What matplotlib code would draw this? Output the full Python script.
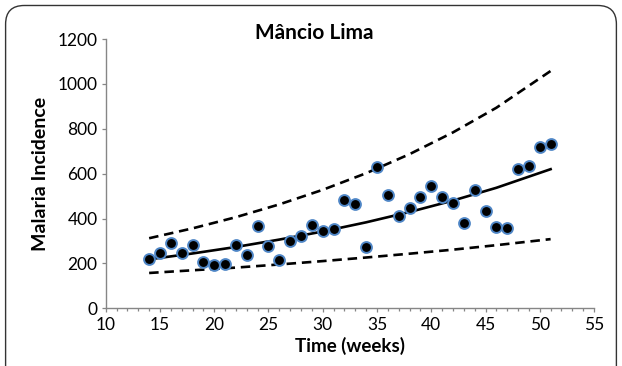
import numpy as np
import matplotlib
matplotlib.use('Agg')
import matplotlib.pyplot as plt
from matplotlib.patches import FancyBboxPatch

plt.rcParams['font.family'] = ['Lato', 'DejaVu Sans']

# observed weekly incidence
weeks = [14, 15, 16, 17, 18, 19, 20, 21, 22, 23, 24, 25, 26, 27, 28, 29, 30, 31, 32,
         33, 34, 35, 36, 37, 38, 39, 40, 41, 42, 43, 44, 45, 46, 47, 48, 49, 50, 51]
incidence = [218, 247, 291, 247, 282, 207, 193, 196, 281, 236, 367, 278, 215, 299, 323,
             373, 343, 355, 483, 464, 275, 630, 505, 412, 445, 494, 546, 498, 468, 380,
             525, 433, 364, 357, 619, 633, 717, 731]

# fitted curve and bounds
curve_weeks = [14, 18, 22, 26, 30, 34, 38, 42, 46, 51]
fit = [218, 244, 273, 306, 342, 383, 429, 480, 537, 620]
upper = [312, 356, 406, 463, 528, 602, 687, 784, 894, 1058]
lower = [157, 169, 181, 195, 210, 226, 243, 261, 281, 308]

fig = plt.figure(figsize=(6.22, 3.66), dpi=100)
ax = fig.add_axes([0.170, 0.158, 0.785, 0.735])

ax.plot(curve_weeks, upper, color='black', lw=1.9, ls=(0, (3.6, 2.2)))
ax.plot(curve_weeks, lower, color='black', lw=1.9, ls=(0, (3.6, 2.2)))
ax.plot(curve_weeks, fit, color='black', lw=1.9)
ax.plot(weeks, incidence, ls='none', marker='o', ms=7.8, mfc='black',
        mec='#4f86c6', mew=1.4)

ax.set_xlim(10, 55)
ax.set_ylim(0, 1200)
ax.set_xticks(range(10, 56, 5))
ax.set_yticks(range(0, 1201, 200))
ax.set_xticks(range(10, 56), minor=True)

for s in ['top', 'right']:
    ax.spines[s].set_visible(False)
for s in ['left', 'bottom']:
    ax.spines[s].set_color('#868686')
    ax.spines[s].set_linewidth(1.0)
ax.tick_params(axis='both', which='both', color='#868686', length=3, width=0.9,
               labelsize=12.5, pad=3)
ax.tick_params(axis='x', which='minor', length=2.5)

ax.set_xlabel('Time (weeks)', fontsize=13.5, fontweight='bold', labelpad=3)
ax.set_ylabel('Malaria Incidence', fontsize=14, fontweight='bold', labelpad=6)
fig.text(0.505, 0.91, 'Mâncio Lima', fontsize=15, fontweight='bold',
         ha='center', va='center')

# rounded frame around the figure
frame = FancyBboxPatch((0.009, -0.1), 0.982, 1.085, boxstyle='round,pad=0,rounding_size=0.03',
                       transform=fig.transFigure, fill=False, ec='#333333', lw=1.0,
                       mutation_aspect=622 / 366)
fig.patches.append(frame)

fig.savefig('out.png', dpi=100)
